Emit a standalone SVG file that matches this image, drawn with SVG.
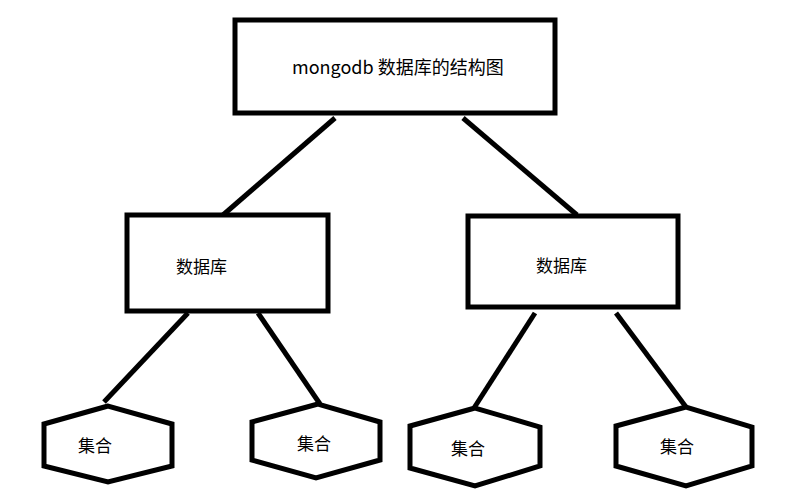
<svg xmlns="http://www.w3.org/2000/svg" width="804" height="496" viewBox="0 0 804 496">
<style>
.s{fill:#fff;stroke:#000;stroke-width:5}
.l{stroke:#000;stroke-width:5;fill:none}
text{font-family:"Noto Sans CJK SC","Liberation Sans",sans-serif;fill:#000}
</style>
<rect width="804" height="496" fill="#fff"/>
<g id="connectors">
<line class="l" x1="335" y1="118" x2="223" y2="215"/>
<line class="l" x1="463" y1="118" x2="577" y2="215"/>
<line class="l" x1="188" y1="313" x2="104" y2="402"/>
<line class="l" x1="258" y1="313" x2="320" y2="404"/>
<line class="l" x1="535" y1="313" x2="474" y2="408"/>
<line class="l" x1="616" y1="313" x2="686" y2="407"/>
</g>
<g id="root"><rect class="s" x="235" y="20" width="320" height="93"/><text x="292" y="74" font-size="18">mongodb 数据库的结构图</text></g>
<g id="db1"><rect class="s" x="127" y="215" width="201" height="96"/><text x="176" y="273" font-size="17">数据库</text></g>
<g id="db2"><rect class="s" x="468" y="216" width="210" height="91"/><text x="536" y="272" font-size="17">数据库</text></g>
<g id="c1"><polygon class="s" points="108,406 44,424 44,466 108,482 172,466 172,424"/><text x="78" y="452" font-size="17">集合</text></g>
<g id="c2"><polygon class="s" points="318,404 252,422 252,460 316,478 380,460 380,422"/><text x="297" y="450" font-size="17">集合</text></g>
<g id="c3"><polygon class="s" points="475,408 410,426 410,468 475,486 540,466 540,427"/><text x="451" y="455" font-size="17">集合</text></g>
<g id="c4"><polygon class="s" points="686,407 616,426 616,466 686,486 752,466 752,427"/><text x="660" y="453" font-size="17">集合</text></g>
</svg>
